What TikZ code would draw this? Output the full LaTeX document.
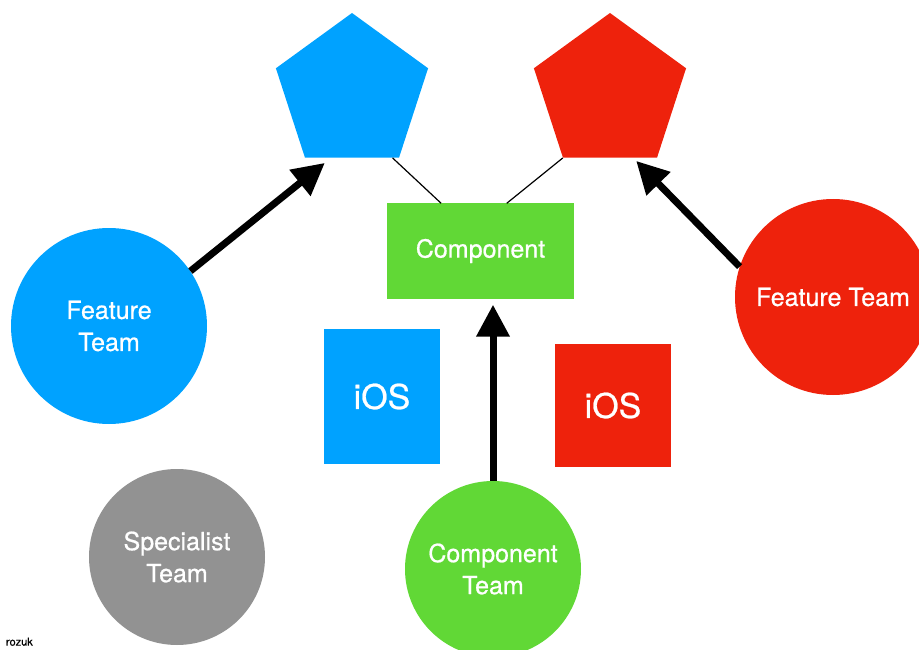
\documentclass[tikz,border=0pt]{standalone}
\usepackage{fontspec}
\setmainfont{TeX Gyre Heros}[FakeBold=0.7]
\usetikzlibrary{shapes.geometric,arrows.meta,calc}
\definecolor{kblue}{HTML}{00A2FF}
\definecolor{kred}{HTML}{EE220C}
\definecolor{kgreen}{HTML}{61D836}
\definecolor{kgray}{HTML}{929292}
\begin{document}
\begin{tikzpicture}[x=1pt, y=-1pt,
    team/.style={circle, inner sep=0pt, text=white, align=center,
        font=\fontsize{25}{32}\selectfont},
    penta/.style={regular polygon, regular polygon sides=5,
        minimum size=160pt, inner sep=0pt},
    platform/.style={inner sep=0pt, text=white,
        font=\fontsize{34}{36}\selectfont},
    link/.style={draw=black, line width=1.2pt},
    push/.style={draw=black, line width=7pt,
        -{Triangle[length=32pt, width=32pt]}}]
    \useasboundingbox (0, 0) rectangle (919, 650);

    % Produkte
    \node[penta, fill=kblue] (pblue) at (352, 93) {};
    \node[penta, fill=kred] (pred) at (610, 93) {};

    % Komponente
    \node[fill=kgreen, minimum width=187pt, minimum height=95pt, inner sep=0pt,
        text=white, font=\fontsize{25}{28}\selectfont] (comp) at (480.5, 251) {Component};
    \draw[link] ($(pblue.corner 3)!0.93!(pblue.corner 4)$) -- ($(comp.north west)!0.29!(comp.north east)$);
    \draw[link] (pred.corner 3) -- ($(comp.north west)!0.64!(comp.north east)$);

    % Plattformen
    \node[platform, fill=kblue, minimum width=116pt, minimum height=135pt] (iosblue) at (382, 396.5) {iOS};
    \node[platform, fill=kred, minimum width=116pt, minimum height=123pt] (iosred) at (613, 405.5) {iOS};

    % Teams
    \node[team, fill=kblue, minimum size=196pt] (fblue) at (109, 326) {Feature\\Team};
    \node[team, fill=kred, minimum size=196pt] (fred) at (833, 297) {Feature Team};
    \node[team, fill=kgray, minimum size=176pt] (special) at (177, 557) {Specialist\\Team};
    \node[team, fill=kgreen, minimum size=176pt] (fgreen) at (493, 569) {Component\\Team};

    % Pfeile
    \draw[push] (fblue.34) -- ([shift={(20, 5)}]pblue.corner 3);
    \draw[push] (fred.162) -- ([shift={(-21, 3)}]pred.corner 4);
    \draw[push, shorten >=6pt] (fgreen.north) -- (fgreen.north |- comp.south);

    % Rand
    \node[anchor=south east, inner sep=0pt, font=\fontsize{11}{11}\selectfont] (credit) at (33, 646) {rozuk};
\end{tikzpicture}
\end{document}
